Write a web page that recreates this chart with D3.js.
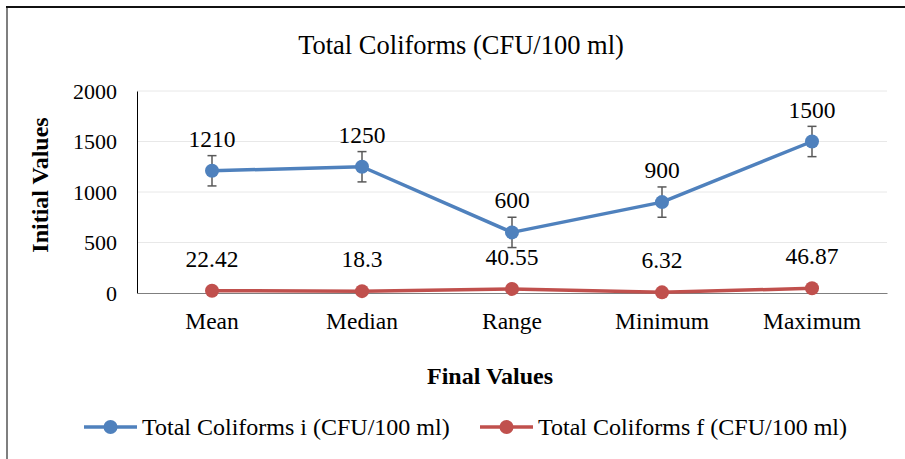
<!DOCTYPE html>
<html>
<head>
<meta charset="utf-8">
<script src="https://cdn.jsdelivr.net/npm/d3@7"></script>
<style>
  body { margin: 0; background: #fff; }
  svg text { font-family: "Liberation Serif", "Times New Roman", serif; fill: #000; }
</style>
</head>
<body>
<div class="chart"></div>
<script>
// chart data
var categories = ["Mean", "Median", "Range", "Minimum", "Maximum"];
var initialValues = [1210, 1250, 600, 900, 1500];
var finalValues = [22.42, 18.3, 40.55, 6.32, 46.87];
var finalLabels = ["22.42", "18.3", "40.55", "6.32", "46.87"];
var errorAmount = 150;
var yTicks = [0, 500, 1000, 1500, 2000];
var seriesNames = ["Total Coliforms i (CFU/100 ml)", "Total Coliforms f (CFU/100 ml)"];

var W = 905, H = 459;
var margin = { top: 91, right: 18, bottom: 166, left: 137 },
    width = W - margin.left - margin.right,
    height = H - margin.top - margin.bottom;

var blue = "#4f81bd", red = "#c0504d";
var serif = "Liberation Serif, Times New Roman, serif";

var svg = d3.select(".chart").append("svg")
    .attr("width", W)
    .attr("height", H);

// frame
svg.append("line").attr("x1", 7).attr("x2", 7).attr("y1", 7).attr("y2", H)
    .attr("stroke", "#7f7f7f").attr("stroke-width", 2);
svg.append("line").attr("x1", 6).attr("x2", W).attr("y1", 7).attr("y2", 7)
    .attr("stroke", "#111").attr("stroke-width", 2);

var g = svg.append("g")
    .attr("transform", "translate(" + margin.left + "," + margin.top + ")");

var x = d3.scaleBand().domain(categories).range([0, width]);
var y = d3.scaleLinear().domain([0, 2000]).range([height, 0]);
var cx = function(d, i) { return x(categories[i]) + x.bandwidth() / 2; };

// gridlines
g.selectAll(".grid").data(yTicks.slice(1)).enter().append("line")
    .attr("x1", 0).attr("x2", width)
    .attr("y1", function(d) { return y(d); })
    .attr("y2", function(d) { return y(d); })
    .attr("stroke", "#e8e8e8").attr("stroke-width", 1);

// y axis
var yAxis = d3.axisLeft(y).tickValues(yTicks).tickFormat(d3.format("d"))
    .tickSize(0).tickPadding(20);
var yg = g.append("g").call(yAxis);
yg.select(".domain").attr("stroke", "#000");
yg.selectAll("text").style("font-size", "22px").style("font-family", serif);

// x axis
var xAxis = d3.axisBottom(x).tickSize(0).tickPadding(19);
var xg = g.append("g").attr("transform", "translate(0," + height + ")").call(xAxis);
xg.select(".domain").attr("stroke", "#7f7f7f");
xg.selectAll("text").style("font-size", "23.5px").style("font-family", serif);

var line = d3.line()
    .x(cx)
    .y(function(d) { return y(d); });

// error bars on initial series
var eb = g.selectAll(".eb").data(initialValues).enter().append("g")
    .attr("stroke", "#595959").attr("stroke-width", 1.5);
eb.append("line")
    .attr("x1", cx).attr("x2", cx)
    .attr("y1", function(d) { return y(d + errorAmount); })
    .attr("y2", function(d) { return y(d - errorAmount); });
eb.append("line")
    .attr("x1", function(d, i) { return cx(d, i) - 4.5; })
    .attr("x2", function(d, i) { return cx(d, i) + 4.5; })
    .attr("y1", function(d) { return y(d + errorAmount); })
    .attr("y2", function(d) { return y(d + errorAmount); });
eb.append("line")
    .attr("x1", function(d, i) { return cx(d, i) - 4.5; })
    .attr("x2", function(d, i) { return cx(d, i) + 4.5; })
    .attr("y1", function(d) { return y(d - errorAmount); })
    .attr("y2", function(d) { return y(d - errorAmount); });

function drawSeries(data, color, labels) {
  g.append("path").datum(data)
      .attr("fill", "none").attr("stroke", color)
      .attr("stroke-width", 3.5).attr("stroke-linejoin", "round")
      .attr("d", line);
  g.selectAll(null).data(data).enter().append("circle")
      .attr("cx", cx)
      .attr("cy", function(d) { return y(d); })
      .attr("r", 7)
      .attr("fill", color);
  g.selectAll(null).data(data).enter().append("text")
      .attr("x", cx)
      .attr("y", function(d) { return y(d) - 24; })
      .attr("text-anchor", "middle")
      .style("font-size", "23.5px")
      .text(function(d, i) { return labels[i]; });
}

drawSeries(initialValues, blue, initialValues.map(String));
drawSeries(finalValues, red, finalLabels);

// titles
svg.append("text").attr("x", 461).attr("y", 54)
    .attr("text-anchor", "middle").style("font-size", "26.5px")
    .text("Total Coliforms (CFU/100 ml)");

svg.append("text")
    .attr("transform", "translate(48,185) rotate(-90)")
    .attr("text-anchor", "middle")
    .style("font-size", "24px").style("font-weight", "bold")
    .text("Initial Values");

svg.append("text").attr("x", 490).attr("y", 384)
    .attr("text-anchor", "middle")
    .style("font-size", "24px").style("font-weight", "bold")
    .text("Final Values");

// legend
var legendX = [84, 480];
var legend = svg.selectAll(".legend").data(seriesNames).enter().append("g")
    .attr("transform", function(d, i) { return "translate(" + legendX[i] + ",427)"; });
legend.append("line").attr("x1", 0).attr("x2", 53).attr("y1", 0).attr("y2", 0)
    .attr("stroke", function(d, i) { return i ? red : blue; }).attr("stroke-width", 3.5);
legend.append("circle").attr("cx", 26.5).attr("cy", 0).attr("r", 7)
    .attr("fill", function(d, i) { return i ? red : blue; });
legend.append("text").attr("x", 58).attr("y", 8)
    .style("font-size", "24px")
    .text(function(d) { return d; });
</script>
</body>
</html>
